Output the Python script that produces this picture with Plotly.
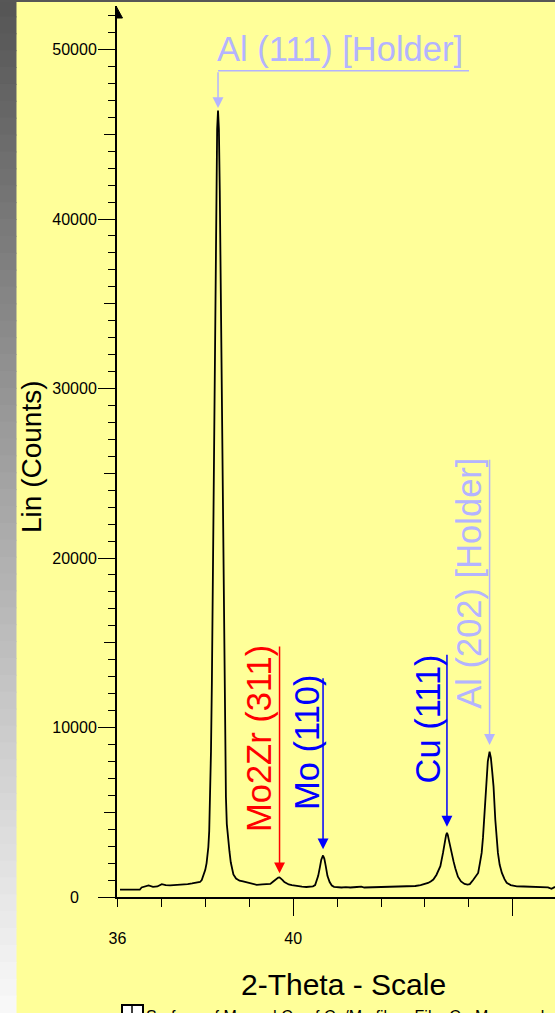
import plotly.graph_objects as go

# ---------------- data ----------------
two_theta = [
    36.06, 36.51, 36.55, 36.61, 36.71, 36.81, 36.91, 37.01, 37.10, 37.20,
    37.35, 37.50, 37.60, 37.70, 37.80, 37.88, 37.92, 37.96, 38.00, 38.03,
    38.05, 38.07, 38.09, 38.11, 38.13, 38.15, 38.17, 38.19, 38.21, 38.23,
    38.25, 38.27, 38.29, 38.31, 38.33, 38.35, 38.37, 38.39, 38.41, 38.43,
    38.45, 38.47, 38.49, 38.51, 38.53, 38.55, 38.58, 38.61, 38.64, 38.70,
    38.78, 38.86, 38.95, 39.07, 39.17, 39.30, 39.40, 39.48, 39.54, 39.58,
    39.62, 39.66, 39.69, 39.72, 39.76, 39.80, 39.85, 39.90, 39.97, 40.05,
    40.12, 40.20, 40.30, 40.38, 40.45, 40.50, 40.54, 40.57, 40.61, 40.64,
    40.68, 40.71, 40.74, 40.78, 40.83, 40.88, 40.93, 41.00, 41.10, 41.20,
    41.30, 41.45, 41.55, 41.62, 41.75, 41.90, 42.05, 42.20, 42.35, 42.50,
    42.65, 42.78, 42.90, 43.00, 43.07, 43.13, 43.19, 43.26, 43.31, 43.35,
    43.41, 43.45, 43.48, 43.50, 43.52, 43.54, 43.57, 43.61, 43.65, 43.69,
    43.75, 43.82, 43.90, 43.97, 44.02, 44.10, 44.17, 44.21, 44.25, 44.29,
    44.32, 44.35, 44.39, 44.43, 44.47, 44.50, 44.53, 44.56, 44.60, 44.63,
    44.66, 44.70, 44.75, 44.81, 44.86, 44.95, 45.09, 45.25, 45.45, 45.65,
    45.80, 45.88, 45.93, 45.96,
]
counts = [
    430, 430, 560, 600, 680, 600, 620, 760, 700, 690,
    700, 720, 760, 800, 830, 885, 1000, 1250, 1600, 2000,
    2350, 2950, 3900, 5900, 8600, 12600, 17700, 23700, 30200, 36500,
    41700, 45300, 46400, 45300, 41700, 36500, 30200, 23700, 17700, 12600,
    8600, 5900, 4300, 3600, 3000, 2700, 2050, 1600, 1330, 1090,
    960, 920, 850, 760, 720, 740, 760, 770, 900, 1000,
    1080, 1150, 1160, 1100, 1000, 880, 790, 740, 700, 660,
    640, 610, 590, 600, 630, 700, 950, 1250, 1780, 2200,
    2450, 2250, 1850, 1250, 880, 680, 600, 570, 560, 580,
    560, 590, 610, 560, 570, 590, 570, 580, 600, 610,
    620, 650, 700, 760, 830, 920, 1030, 1300, 1550, 1820,
    2600, 3250, 3650, 3780, 3650, 3400, 3000, 2600, 2100, 1700,
    1200, 920, 770, 730, 760, 1020, 1250, 1420, 2000, 2600,
    3500, 4570, 6530, 8000, 8570, 8200, 7400, 6530, 4570, 3500,
    2600, 1900, 1420, 1050, 840, 700, 630, 620, 610, 600,
    570, 480, 560, 600,
]
assert len(two_theta) == len(counts)

y_tick_values = [0, 10000, 20000, 30000, 40000, 50000]
y_tick_labels = ["0\u2007\u2007", "10000", "20000", "30000", "40000", "50000"]
y_mid_tick_values = [5000, 15000, 25000, 35000, 45000]
x_tick_values = [36, 40]
x_tick_labels = ["36", "40"]
x_minor_tick_values = [36, 37, 38, 39, 40, 41, 42, 43, 44, 45]
x_major_tick_values = [40, 45]

peak_names = ["Al (111) [Holder]", "Mo2Zr (311)", "Mo (110)", "Cu (111)", "Al (202) [Holder]"]
peak_two_theta = [38.29, 39.69, 40.68, 43.50, 44.47]

x_title = "2-Theta - Scale"
y_title = "Lin (Counts)"
legend_text = "Surface of Mo and Cu of Cu/Mo film - File: Cu-Mo sample.raw"

# ---------------- styling / geometry ----------------
W, H = 555, 1013
X0_PX, X1_PX = 117, 555
Y_TOP_PX, Y_BOT_PX = 10, 897
X_RANGE = [35.991, 45.959]
Y_RANGE = [0, 52330]
BG = "#FFFF99"
LAV = "#B4B4FF"
RED = "#FF0000"
BLUE = "#0000FF"
peak_colors = [LAV, RED, BLUE, BLUE, LAV]
FONT = "Arial, Liberation Sans, sans-serif"
LABEL_SIZE = 34.5


def cx(px):
    return X_RANGE[0] + (px - X0_PX) / (X1_PX - X0_PX) * (X_RANGE[1] - X_RANGE[0])


def cy(py):
    return Y_RANGE[0] + (Y_BOT_PX - py) / (Y_BOT_PX - Y_TOP_PX) * (Y_RANGE[1] - Y_RANGE[0])


def px_paper(px):
    return px / W


def py_paper(py):
    return 1 - py / H


# label placement (pixels): text centre / anchor, top of leader line, arrow tip
label_geom = [
    dict(kind="h", tx=215, ty=49, bar_y=70.7, bar_end=469, tip=108),
    dict(kind="v", tx=259, ty=739, top=645, tip=873.3),
    dict(kind="v", tx=306.5, ty=742.5, top=676.7, tip=849.3),
    dict(kind="v", tx=427, ty=719.5, top=653.3, tip=826.7),
    dict(kind="v", tx=469.5, ty=583.3, top=458.3, tip=745),
]

fig = go.Figure()
fig.add_trace(go.Scatter(x=two_theta, y=counts, mode="lines",
                         line=dict(color="black", width=1.8),
                         hoverinfo="skip", showlegend=False))
# helper traces so the overlay tick axes get drawn
fig.add_trace(go.Scatter(x=[None], y=[None], xaxis="x2", yaxis="y", showlegend=False))
fig.add_trace(go.Scatter(x=[None], y=[None], xaxis="x3", yaxis="y", showlegend=False))
fig.add_trace(go.Scatter(x=[None], y=[None], xaxis="x", yaxis="y2", showlegend=False))

annotations = []
shapes = []

for name, pos, col, g in zip(peak_names, peak_two_theta, peak_colors, label_geom):
    if g["kind"] == "h":
        annotations.append(dict(x=cx(g["tx"]), y=cy(g["ty"]), xref="x", yref="y",
                                text=name, showarrow=False, xanchor="left", yanchor="middle",
                                font=dict(family=FONT, size=LABEL_SIZE, color=col)))
        shapes.append(dict(type="line", xref="x", yref="y", x0=pos, x1=cx(g["bar_end"]),
                           y0=cy(g["bar_y"]), y1=cy(g["bar_y"]),
                           line=dict(color=col, width=1.5)))
        top_y = cy(g["bar_y"])
    else:
        annotations.append(dict(x=cx(g["tx"]), y=cy(g["ty"]), xref="x", yref="y",
                                text=name, showarrow=False, textangle=-90,
                                xanchor="center", yanchor="middle",
                                font=dict(family=FONT, size=LABEL_SIZE, color=col)))
        top_y = cy(g["top"])
    annotations.append(dict(x=pos, y=cy(g["tip"]), ax=pos, ay=top_y, xref="x", yref="y",
                            axref="x", ayref="y", text="", showarrow=True,
                            arrowhead=2, arrowsize=1.45, arrowwidth=1.5,
                            arrowcolor=col, standoff=0, startstandoff=0))

# axis titles
annotations.append(dict(x=px_paper(32), y=py_paper(457), xref="paper", yref="paper",
                        text=y_title, showarrow=False, textangle=-90,
                        xanchor="center", yanchor="middle",
                        font=dict(family=FONT, size=28, color="black")))
annotations.append(dict(x=px_paper(343), y=py_paper(984), xref="paper", yref="paper",
                        text=x_title, showarrow=False, xanchor="center", yanchor="middle",
                        font=dict(family=FONT, size=30, color="black")))
# cut-off legend line at the bottom (the reference crops it at the image edge)
annotations.append(dict(x=px_paper(144), y=py_paper(1006), xref="paper", yref="paper",
                        text=legend_text, showarrow=False, xanchor="left", yanchor="top",
                        font=dict(family=FONT, size=16, color="black")))
shapes.append(dict(type="rect", xref="paper", yref="paper",
                   x0=px_paper(122), x1=px_paper(143), y0=py_paper(1025), y1=py_paper(1005),
                   fillcolor="white", line=dict(color="black", width=2)))
shapes.append(dict(type="line", xref="paper", yref="paper",
                   x0=px_paper(132), x1=px_paper(132), y0=py_paper(1025), y1=py_paper(1005),
                   line=dict(color="black", width=1.5)))

# left grey gradient strip and top dark strip
N = 60
for i in range(N):
    g0 = int(85 + (250 - 85) * (i + 0.5) / N)
    shapes.append(dict(type="rect", xref="paper", yref="paper",
                       x0=0, x1=px_paper(16.5),
                       y0=py_paper(H * (i + 1) / N) - 0.0005, y1=py_paper(H * i / N) + 0.0005,
                       fillcolor=f"rgb({g0},{g0},{g0})", line=dict(width=0), layer="below"))
shapes.append(dict(type="rect", xref="paper", yref="paper", x0=0, x1=1,
                   y0=py_paper(2), y1=1.0, fillcolor="#575757", line=dict(width=0)))
# arrow head at the top of the y axis
ax_x = px_paper(116)
shapes.append(dict(type="path", xref="paper", yref="paper",
                   path=(f"M {ax_x},{py_paper(6)} L {px_paper(122.5)},{py_paper(18)} "
                         f"L {ax_x},{py_paper(18)} Z"),
                   fillcolor="black", line=dict(color="black", width=1)))
shapes.append(dict(type="line", xref="paper", yref="paper", x0=ax_x, x1=ax_x,
                   y0=py_paper(20), y1=py_paper(6), line=dict(color="black", width=2)))

x_domain = [X0_PX / W, X1_PX / W]
y_domain = [1 - Y_BOT_PX / H, 1 - Y_TOP_PX / H]

fig.update_layout(
    width=W, height=H,
    margin=dict(l=0, r=0, t=0, b=0, autoexpand=False),
    paper_bgcolor=BG, plot_bgcolor=BG,
    showlegend=False,
    annotations=annotations,
    shapes=shapes,
    xaxis=dict(domain=x_domain, range=X_RANGE, showgrid=False, zeroline=False,
               showline=True, linecolor="black", linewidth=2,
               tickmode="array", tickvals=x_tick_values, ticktext=x_tick_labels,
               ticks="", ticklabelstandoff=26, automargin=False,
               tickfont=dict(family=FONT, size=16, color="black"), anchor="y"),
    xaxis2=dict(overlaying="x", anchor="y", side="bottom", range=X_RANGE,
                showgrid=False, zeroline=False, showline=False, showticklabels=False,
                tickmode="array", tickvals=x_minor_tick_values, automargin=False,
                ticks="outside", ticklen=9, tickwidth=1.2, tickcolor="black"),
    xaxis3=dict(overlaying="x", anchor="y", side="bottom", range=X_RANGE,
                showgrid=False, zeroline=False, showline=False, showticklabels=False,
                tickmode="array", tickvals=x_major_tick_values, automargin=False,
                ticks="outside", ticklen=18, tickwidth=1.2, tickcolor="black"),
    yaxis=dict(domain=y_domain, range=Y_RANGE, showgrid=False, zeroline=False,
               showline=True, linecolor="black", linewidth=2,
               tickmode="array", tickvals=y_tick_values, ticktext=y_tick_labels,
               ticks="outside", ticklen=17, tickwidth=1.2, tickcolor="black",
               tickfont=dict(family=FONT, size=16, color="black"), automargin=False,
               ticklabelstandoff=-2,
               minor=dict(dtick=1000, tick0=0, ticks="outside", ticklen=7,
                          tickwidth=1, tickcolor="black", showgrid=False),
               anchor="x"),
    yaxis2=dict(overlaying="y", anchor="x", side="left", range=Y_RANGE,
                showgrid=False, zeroline=False, showline=False, showticklabels=False,
                tickmode="array", tickvals=y_mid_tick_values, automargin=False,
                ticks="outside", ticklen=12, tickwidth=1.2, tickcolor="black"),
)

fig.write_html("out.html")
